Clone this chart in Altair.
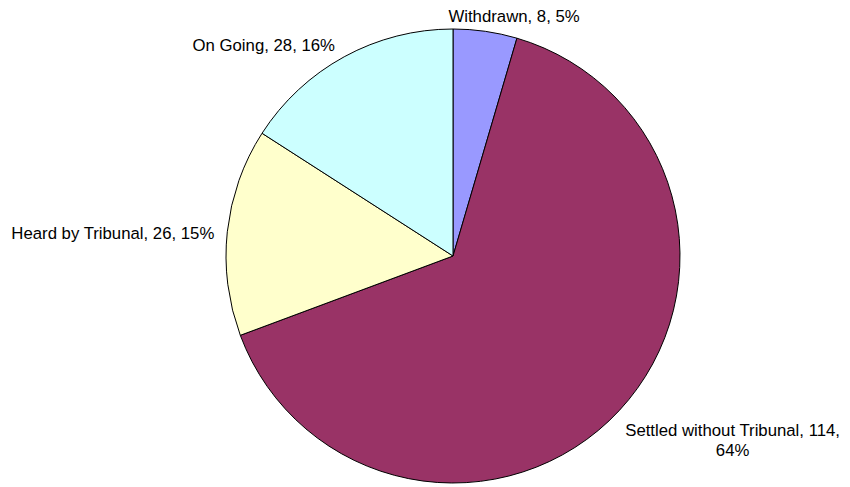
import altair as alt
import pandas as pd

categories = ["Withdrawn", "Settled without Tribunal", "Heard by Tribunal", "On Going"]
values = [8, 114, 26, 28]
percents = ["5%", "64%", "15%", "16%"]
colors = ["#9999FF", "#993366", "#FFFFCC", "#CCFFFF"]

labels = [f"{c}, {v}, {p}" for c, v, p in zip(categories, values, percents)]
labels[1] = f"{categories[1]}, {values[1]},\n{percents[1]}"

df = pd.DataFrame({
    "cat": categories,
    "value": values,
    "idx": list(range(len(categories))),
    "label": labels,
})

CX, CY, R = 445, 248, 227
FONT = "Liberation Sans"
FS = 16.75

base = alt.Chart(df).encode(
    theta=alt.Theta("value:Q", stack=True),
    order=alt.Order("idx:Q"),
    x=alt.value(CX),
    y=alt.value(CY),
)

arcs = base.mark_arc(outerRadius=R, stroke="black", strokeWidth=1).encode(
    color=alt.Color("cat:N", scale=alt.Scale(domain=categories, range=colors), legend=None)
)


def label_layer(cat, radius, align, dx, dy):
    return base.transform_calculate(
        lab=f"datum.cat == '{cat}' ? datum.label : ''"
    ).mark_text(
        radius=radius, align=align, baseline="middle", dx=dx, dy=dy,
        font=FONT, fontSize=FS, color="black", lineBreak="\n", lineHeight=20,
    ).encode(text="lab:N")


t1 = label_layer("Withdrawn", 242, "left", -39, 1)
t2 = label_layer("Settled without Tribunal", 270, "center", 82, -9)
t3 = label_layer("Heard by Tribunal", 229, "right", -11, 2)
t4 = label_layer("On Going", 240, "right", -3, 1)

chart = alt.layer(arcs, t1, t2, t3, t4).properties(
    width=834, height=478, padding=0, autosize=alt.AutoSizeParams(type="none"),
    background="white",
).configure_view(stroke=None)

chart.save("out.html", embed_options={"renderer": "svg", "actions": False})
